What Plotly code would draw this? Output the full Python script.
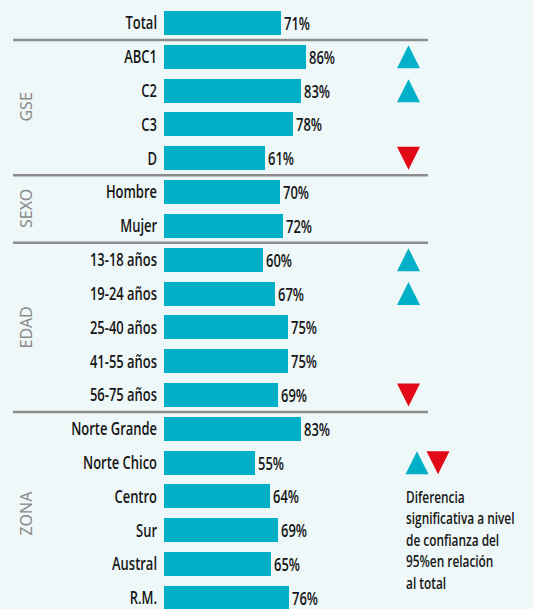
import plotly.graph_objects as go

# Survey results: share (%) by segment
categories = [
    "Total",
    "ABC1", "C2", "C3", "D",
    "Hombre", "Mujer",
    "13-18 años", "19-24 años", "25-40 años", "41-55 años", "56-75 años",
    "Norte Grande", "Norte Chico", "Centro", "Sur", "Austral", "R.M.",
]
values = [71, 86, 83, 78, 61, 70, 72, 60, 67, 75, 75, 69, 83, 55, 64, 69, 65, 76]
# Significance vs. total: +1 higher, -1 lower, 0 not significant
significance = [0, 1, 1, 0, -1, 0, 0, 1, 1, 0, 0, -1, 0, 0, 0, 0, 0, 0]
groups = ["GSE", "SEXO", "EDAD", "ZONA"]
group_sizes = [4, 2, 5, 6]
legend_text = ["Diferencia", "significativa a nivel", "de confianza del",
               "95%en relación", "al total"]

W, H = 533, 609
BG = "#eff8f8"
BAR = "#00afc8"
RED = "#e20a17"
GRID = "#8c8c8c"
INK = "#161616"
FONT = "Open Sans, sans-serif"          # condensed horizontally after drawing
GROUP_FONT = "Noto Sans, sans-serif"
CONDENSE = 0.72

PX_PER_PCT = 1.65
X0_PX = 164
ROW_PX = 33.82
TOP_PX = 23

rows = list(range(len(categories)))
x_max = (W - X0_PX) / PX_PER_PCT
y_top = -TOP_PX / ROW_PX
y_bot = (H - TOP_PX) / ROW_PX


def px_to_x(px):
    return (px - X0_PX) / PX_PER_PCT


fig = go.Figure()
fig.add_trace(go.Bar(
    x=values, y=rows, orientation="h", width=0.71,
    marker=dict(color=BAR, line=dict(width=0)),
    text=[f"{v}%" for v in values], textposition="outside",
    textfont=dict(family=FONT, size=18, color=INK, weight=600),
    cliponaxis=False, hoverinfo="skip",
))

# Significance triangles in a fixed column
tri_w = 23 / PX_PER_PCT / 2
tri_h = 23 / ROW_PX / 2
col_x = px_to_x(408.5)


def triangles(points, up):
    xs, ys = [], []
    sgn = 1 if up else -1
    for cx, cy in points:
        xs += [cx - tri_w, cx + tri_w, cx, cx - tri_w, None]
        ys += [cy + sgn * tri_h, cy + sgn * tri_h, cy - sgn * tri_h,
               cy + sgn * tri_h, None]
    return xs, ys


ups = [(col_x, r) for r, s in zip(rows, significance) if s > 0]
downs = [(col_x, r) for r, s in zip(rows, significance) if s < 0]
legend_row = categories.index("Norte Chico")
ups.append((px_to_x(417), legend_row))
downs.append((px_to_x(438), legend_row))

for pts, up, color in [(ups, True, BAR), (downs, False, RED)]:
    xs, ys = triangles(pts, up)
    fig.add_trace(go.Scatter(
        x=xs, y=ys, mode="lines", fill="toself", fillcolor=color,
        line=dict(width=0, color=color), hoverinfo="skip", cliponaxis=False,
    ))

# Group separators and rotated group titles
shapes = []
annotations = []
start = 1
for name, n in zip(groups, group_sizes):
    shapes.append(dict(
        type="line", xref="paper", yref="y",
        x0=13 / W, x1=428 / W, y0=start - 0.5, y1=start - 0.5,
        line=dict(color=GRID, width=2.5),
    ))
    annotations.append(dict(
        text=name, xref="paper", yref="y", x=26 / W, y=start + (n - 1) / 2,
        textangle=-90, showarrow=False, xanchor="center", yanchor="middle",
        font=dict(family=GROUP_FONT, size=16, color="#8a8a8a"),
    ))
    start += n

annotations.append(dict(
    text="<br>".join(legend_text), xref="paper", yref="y",
    x=404 / W, y=(483 - TOP_PX) / ROW_PX, xanchor="left", yanchor="top",
    align="left", showarrow=False,
    font=dict(family=FONT, size=16.5, color=INK, weight=600),
))

fig.update_layout(
    width=W, height=H, margin=dict(l=0, r=0, t=0, b=0),
    paper_bgcolor=BG, plot_bgcolor=BG, showlegend=False,
    bargap=0, shapes=shapes, annotations=annotations,
    xaxis=dict(domain=[X0_PX / W, 1], range=[0, x_max], visible=False,
               fixedrange=True),
    yaxis=dict(range=[y_bot, y_top], tickvals=rows, ticktext=categories,
               showgrid=False, zeroline=False, showline=False, ticks="",
               ticklabelstandoff=6, ticklabeloverflow="allow",
               tickfont=dict(family=FONT, size=18, color=INK, weight=600),
               fixedrange=True),
)

# Narrow the label typeface: squeeze each text horizontally about its
# anchored edge (right edge for end-anchored labels, left edge otherwise).
condense_js = """
(function () {
  var gd = document.getElementById('{plot_id}');
  var S = %s;
  function condense() {
    var texts = gd.querySelectorAll('text');
    texts.forEach(function (el) {
      var fam = el.style.fontFamily || '';
      if (fam.indexOf('Open Sans') < 0) return;
      var tr = el.getAttribute('transform') || '';
      if (tr.indexOf('scale(' + S + ',1)') >= 0) return;
      var bb = el.getBBox();
      var p = el.getAttribute('text-anchor') === 'end' ? bb.x + bb.width : bb.x;
      el.setAttribute('transform', tr + ' translate(' + p + ',0) scale(' + S +
                      ',1) translate(' + (-p) + ',0)');
    });
  }
  condense();
  gd.on('plotly_afterplot', condense);
})();
""" % CONDENSE

fig.write_html("out.html", post_script=condense_js)
